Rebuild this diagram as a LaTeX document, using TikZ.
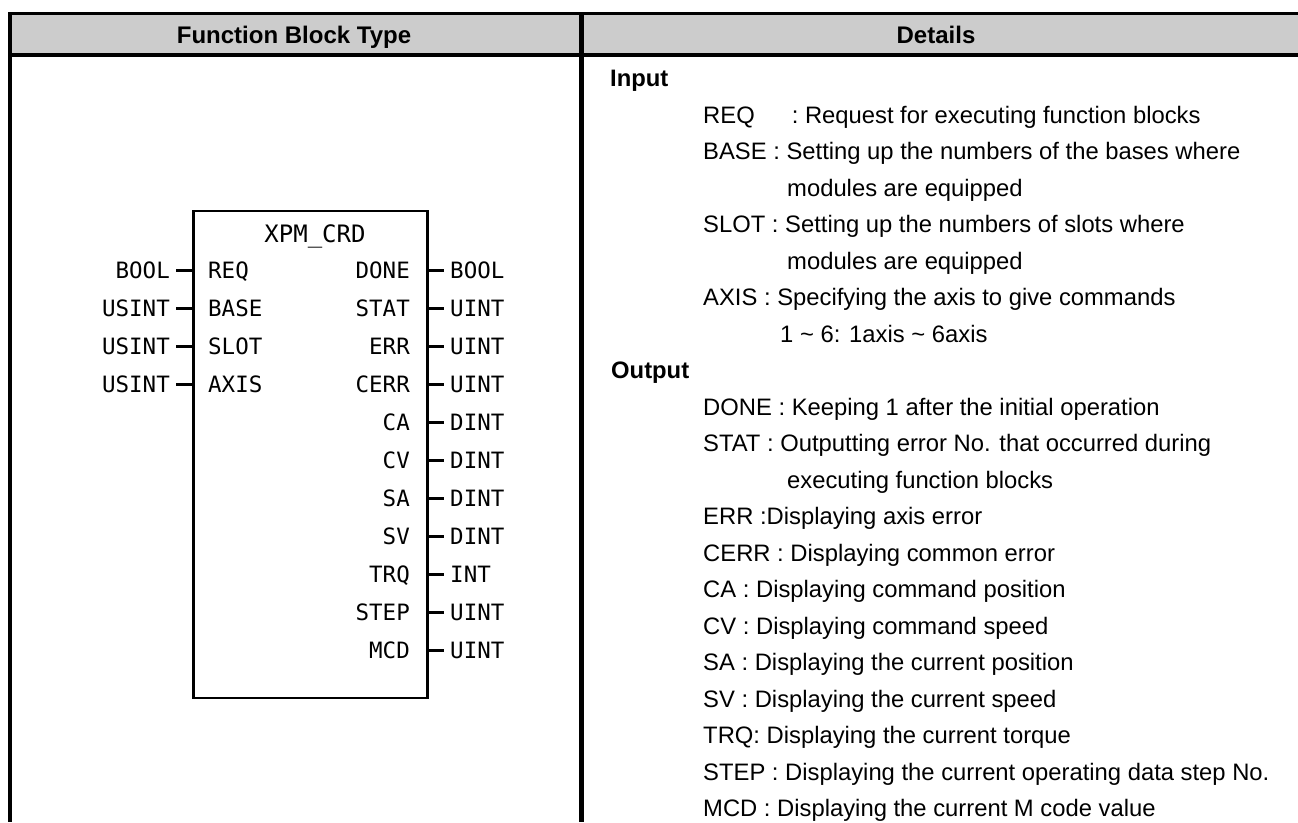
\documentclass[tikz,border=0pt]{standalone}
\usepackage{fontspec}
\setmainfont{Liberation Sans}
\newfontfamily\fbfont{DejaVu Sans Mono}
\begin{document}
\begin{tikzpicture}[x=1pt,y=-1pt,
  hdr/.style={font=\fontsize{24}{28}\selectfont\bfseries, inner sep=0pt, text height=17.2pt, text depth=0pt},
  txt/.style={font=\fontsize{23.8}{28}\selectfont, inner sep=0pt, anchor=west, text height=17pt, text depth=0pt},
  ttl/.style={font=\fontsize{23.8}{28}\selectfont\bfseries, inner sep=0pt, anchor=west, text height=17pt, text depth=0pt},
  fb/.style={font=\fbfont\fontsize{22.5}{26}\selectfont, inner sep=0pt, text height=16.4pt, text depth=0pt},
  fbtitle/.style={font=\fbfont\fontsize{24}{28}\selectfont, inner sep=0pt, text height=17.5pt, text depth=0pt},
  pin/.style={line width=2.7pt},
  fbbox/.style={draw, line width=2.7pt, inner sep=0pt}]
\useasboundingbox (0,0) rectangle (1298,822);
% table
\fill[black!20] (10,13.5) rectangle (1298,55.3);
\draw[line width=3pt] (8,13.5) -- (1298,13.5);
\draw[line width=4pt] (8,55.3) -- (1298,55.3);
\draw[line width=4pt] (10,12) -- (10,822);
\draw[line width=4.5pt] (581.7,12) -- (581.7,822);
\node[hdr] (hFB) at (294,34.4) {Function Block Type};
\node[hdr] (hDet) at (936,34.4) {Details};
% function block
\node[fbbox, minimum width=234.4pt, minimum height=487pt] (box) at (310.5,454.5) {};
\node[fbtitle] (title) at (315,233.3) {XPM\_CRD};
\foreach \n/\t/\k in {REQ/BOOL/0, BASE/USINT/1, SLOT/USINT/2, AXIS/USINT/3} {
  \node[fb, anchor=west] (in\n) at (208, 270.5+38*\k) {\n};
  \node[fb, anchor=east] (ty\n) at (170, 270.5+38*\k) {\t};
  \draw[pin] ([xshift=6pt]ty\n.east) -- (ty\n -| box.west);
}
\foreach \n/\t/\k in {DONE/BOOL/0, STAT/UINT/1, ERR/UINT/2, CERR/UINT/3, CA/DINT/4, CV/DINT/5, SA/DINT/6, SV/DINT/7, TRQ/INT/8, STEP/UINT/9, MCD/UINT/10} {
  \node[fb, anchor=east] (out\n) at (410, 270.5+38*\k) {\n};
  \node[fb, anchor=west] (oty\n) at (450, 270.5+38*\k) {\t};
  \draw[pin] (oty\n -| box.east) -- ([xshift=-6pt]oty\n.west);
}
% details
\node[ttl] (dInput) at (610,78) {Input};
\node[txt] (dREQ) at (703,114.5) {REQ\hspace{37pt}: Request for executing function blocks};
\node[txt] (dBASE) at (703,151) {BASE : Setting up the numbers of the bases where};
\node[txt] (dBASE2) at (787,187.5) {modules are equipped};
\node[txt] (dSLOT) at (703,224) {SLOT : Setting up the numbers of slots where};
\node[txt] (dSLOT2) at (787,260.5) {modules are equipped};
\node[txt] (dAXIS) at (703,297) {AXIS : Specifying the axis to give commands};
\node[txt] (dAXIS2) at (780,333.5) {1 \textasciitilde{} 6: 1axis \textasciitilde{} 6axis};
\node[ttl] (dOutput) at (611,370) {Output};
\node[txt] (dDONE) at (703,406.5) {DONE : Keeping 1 after the initial operation};
\node[txt] (dSTAT) at (703,443) {STAT : Outputting error No. that occurred during};
\node[txt] (dSTAT2) at (787,479.5) {executing function blocks};
\node[txt] (dERR) at (703,516) {ERR :Displaying axis error};
\node[txt] (dCERR) at (703,552.5) {CERR : Displaying common error};
\node[txt] (dCA) at (703,589) {CA : Displaying command position};
\node[txt] (dCV) at (703,625.5) {CV : Displaying command speed};
\node[txt] (dSA) at (703,662) {SA : Displaying the current position};
\node[txt] (dSV) at (703,698.5) {SV : Displaying the current speed};
\node[txt] (dTRQ) at (703,735) {TRQ: Displaying the current torque};
\node[txt] (dSTEP) at (703,771.5) {STEP : Displaying the current operating data step No.};
\node[txt] (dMCD) at (703,808) {MCD : Displaying the current M code value};
\end{tikzpicture}
\end{document}
